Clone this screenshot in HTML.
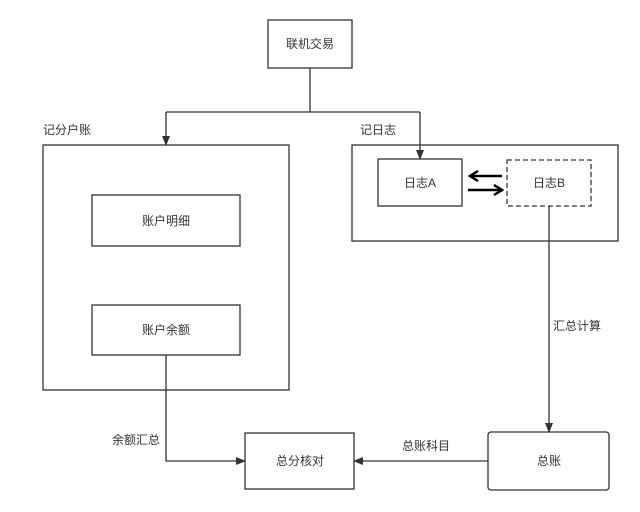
<!DOCTYPE html>
<html><head><meta charset="utf-8"><style>
html,body{margin:0;padding:0;background:#fff;overflow:hidden;}
svg{display:block;}
text{font-family:"Liberation Sans","Noto Sans CJK SC",sans-serif;font-size:12px;fill:#333;}
</style></head><body>
<svg width="640" height="512" viewBox="0 0 640 512" xmlns="http://www.w3.org/2000/svg">
<defs>
<marker id="a" markerWidth="10" markerHeight="10" refX="9" refY="5" orient="auto" markerUnits="userSpaceOnUse">
<path d="M0,1 L10,5 L0,9 Z" fill="#333"/></marker>
<marker id="b" markerWidth="12" markerHeight="12" refX="10" refY="6" orient="auto" markerUnits="userSpaceOnUse">
<path d="M2,1 L10,6 L2,11" fill="none" stroke="#000" stroke-width="2.5"/></marker>
</defs>
<g fill="none" stroke="#333" stroke-width="1.3">
<rect x="268" y="20" width="84" height="48"/>
<rect x="43" y="145" width="246" height="245"/>
<rect x="92" y="195" width="148" height="51"/>
<rect x="92" y="305" width="148" height="50"/>
<rect x="352" y="145" width="266" height="96"/>
<rect x="378" y="159" width="84" height="47"/>
<rect x="507" y="160" width="84" height="46" stroke-dasharray="5,3"/>
<rect x="488" y="432" width="121" height="58" rx="3"/>
<rect x="245" y="433" width="109" height="56"/>
<path d="M310,68 V112 M166,112 H420"/>
<path d="M166,112 V145" marker-end="url(#a)"/>
<path d="M420,112 V159" marker-end="url(#a)"/>
<path d="M549,206 V432" marker-end="url(#a)"/>
<path d="M488,461 H354" marker-end="url(#a)"/>
<path d="M166,355 V461 H245" marker-end="url(#a)"/>
</g>
<g stroke="#000" stroke-width="2.5" fill="none">
<path d="M502,176 H470" marker-end="url(#b)"/>
<path d="M468,190 H502" marker-end="url(#b)"/>
</g>
<g text-anchor="middle" dominant-baseline="central">
<text x="310" y="44">联机交易</text>
<text x="166" y="221">账户明细</text>
<text x="166" y="330">账户余额</text>
<text x="420" y="183">日志A</text>
<text x="549" y="183">日志B</text>
<text x="549" y="461">总账</text>
<text x="300" y="461">总分核对</text>
</g>
<g dominant-baseline="central">
<text x="43" y="130">记分户账</text>
<text x="360" y="130">记日志</text>
<text x="553" y="326">汇总计算</text>
<text x="402" y="446">总账科目</text>
<text x="112" y="440">余额汇总</text>
</g>
</svg>
</body></html>
